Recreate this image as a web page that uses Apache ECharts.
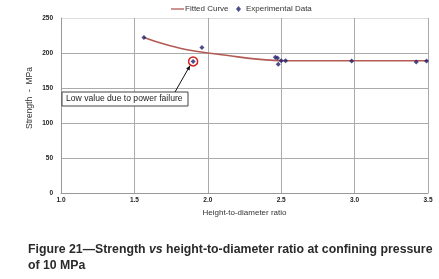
<!DOCTYPE html>
<html>
<head>
<meta charset="utf-8">
<script src="https://cdn.jsdelivr.net/npm/echarts@6/dist/echarts.min.js"></script>
<style>
  html, body { margin: 0; padding: 0; background: #fff; }
  #main { width: 439px; height: 279px; }
</style>
</head>
<body>
<div id="main"></div>
<script>
// fitted curve (ratio, strength)
var fittedX = [1.565, 1.65, 1.75, 1.85, 2.0, 2.15, 2.3, 2.45, 2.55, 3.0, 3.5]
var fittedY = [222, 216, 210, 205, 200, 196, 192, 189.5, 189, 189, 189]
// experimental points
var expX = [1.565, 1.96, 1.90, 2.46, 2.475, 2.48, 2.50, 2.53, 2.98, 3.42, 3.49]
var expY = [222, 208, 188, 194, 193, 184, 189, 189, 188.5, 187, 188.5]
// the low point caused by power failure
var lowPoint = [1.90, 188]
var xTicks = ['1.0', '1.5', '2.0', '2.5', '3.0', '3.5']

var chart = echarts.init(document.getElementById('main'))
var font = 'Liberation Sans, Arial, sans-serif'
var legendText = { fontSize: 8, color: '#333', fontFamily: font }

var option = {
  animation: false,
  backgroundColor: '#fff',
  textStyle: { fontFamily: font },
  title: {
    text: '{b|Figure 21\u2014Strength }{i|vs}{b| height-to-diameter ratio at confining pressure}\n{b|of 10 MPa}',
    left: 23,
    top: 237,
    textStyle: {
      rich: {
        b: { fontSize: 12.3, fontWeight: 'bold', color: '#2a2a2a', fontFamily: font, lineHeight: 16 },
        i: { fontSize: 12.3, fontWeight: 'bold', fontStyle: 'italic', color: '#2a2a2a', fontFamily: font, lineHeight: 16 }
      }
    }
  },
  legend: [
    {
      top: 0,
      left: 166,
      itemWidth: 13,
      itemHeight: 6,
      textStyle: Object.assign({ padding: [0, 0, 0, -4] }, legendText),
      data: [{ name: 'Fitted Curve', icon: 'path://M0,0 L10,0 L10,1 L0,1 Z' }]
    },
    {
      top: 0,
      left: 231,
      itemWidth: 5,
      itemHeight: 6,
      textStyle: legendText,
      data: [{ name: 'Experimental Data', icon: 'diamond', itemStyle: { color: '#1f1f6b' } }]
    }
  ],
  grid: { left: 61, right: 11, top: 18, bottom: 86 },
  xAxis: {
    type: 'value',
    min: 1.0,
    max: 3.5,
    interval: 0.5,
    name: 'Height-to-diameter ratio',
    nameLocation: 'middle',
    nameGap: 15,
    nameTextStyle: { fontSize: 8, color: '#333' },
    axisLine: { show: true, lineStyle: { color: '#999' } },
    axisTick: { show: false },
    axisLabel: {
      fontSize: 6.5, fontWeight: 'bold', color: '#222', margin: 4,
      formatter: function (v) { return xTicks[Math.round((v - 1) / 0.5)] }
    },
    splitLine: { show: true, lineStyle: { color: '#aaa', width: 1 } }
  },
  yAxis: {
    type: 'value',
    min: 0,
    max: 250,
    interval: 50,
    name: 'Strength  -  MPa',
    nameLocation: 'middle',
    nameGap: 27,
    nameMoveOverlap: false,
    nameTextStyle: { fontSize: 8.5, color: '#333', padding: [0, 0, 0, 15] },
    axisLine: { show: true, lineStyle: { color: '#999' } },
    axisTick: { show: false },
    axisLabel: { fontSize: 6.5, fontWeight: 'bold', color: '#222', margin: 8 },
    splitLine: {
      show: true,
      lineStyle: { color: ['#aaa', '#aaa', '#aaa', '#aaa', '#aaa', '#ddd'], width: 1 }
    }
  },
  series: [
    {
      name: 'Fitted Curve',
      type: 'line',
      smooth: 0.4,
      showSymbol: false,
      lineStyle: { color: '#b35a55', width: 1.6 },
      itemStyle: { color: '#b35a55' },
      data: fittedX.map(function (x, i) { return [x, fittedY[i]] }),
      z: 2
    },
    {
      name: 'Experimental Data',
      type: 'scatter',
      symbol: 'diamond',
      symbolSize: 5,
      itemStyle: { color: '#1f1f6b' },
      data: expX.map(function (x, i) { return [x, expY[i]] }),
      markPoint: {
        symbol: 'circle',
        symbolSize: 9,
        silent: true,
        label: { show: false },
        itemStyle: { color: 'rgba(0,0,0,0)', borderColor: '#d32020', borderWidth: 1.5 },
        data: [{ coord: lowPoint }]
      },
      z: 3
    }
  ]
}
chart.setOption(option)

// annotation box with arrow pointing at the low value
var p = chart.convertToPixel({ gridIndex: 0 }, lowPoint)
var boxX = 62, boxY = 92, boxW = 126, boxH = 14
chart.setOption({
  graphic: [
    {
      type: 'rect',
      shape: { x: boxX, y: boxY, width: boxW, height: boxH },
      style: { fill: '#fff', stroke: '#444', lineWidth: 1 },
      z: 10
    },
    {
      type: 'text',
      x: boxX + 4,
      y: boxY + boxH / 2,
      style: { text: 'Low value due to power failure', font: '8.6px ' + font, fill: '#222', textVerticalAlign: 'middle' },
      z: 11
    },
    {
      type: 'line',
      shape: { x1: 175, y1: boxY, x2: p[0] - 3, y2: p[1] + 4 },
      style: { stroke: '#111', lineWidth: 1 },
      z: 10
    },
    {
      type: 'polygon',
      shape: { points: [[p[0] - 3, p[1] + 4], [p[0] - 3.5, p[1] + 9], [p[0] - 7, p[1] + 7]] },
      style: { fill: '#111' },
      z: 10
    }
  ]
})
</script>
</body>
</html>
